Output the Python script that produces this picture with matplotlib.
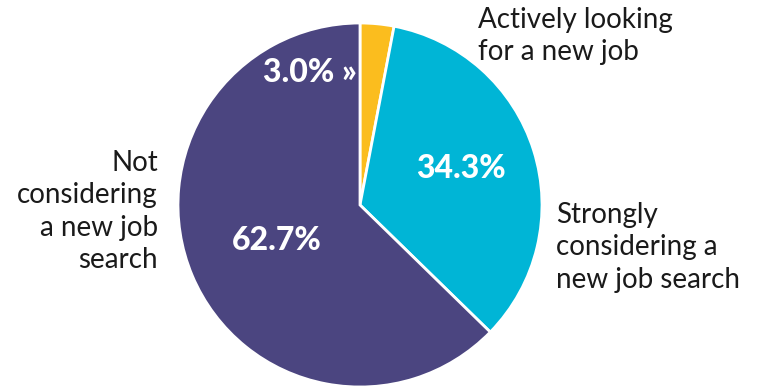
import matplotlib
matplotlib.use("Agg")
import matplotlib.pyplot as plt

plt.rcParams['font.family'] = ['Lato', 'DejaVu Sans']

categories = ['Actively looking\nfor a new job',
              'Strongly\nconsidering a\nnew job search',
              'Not\nconsidering\na new job\nsearch']
shares = [3.0, 34.3, 62.7]
value_labels = ['3.0% »', '34.3%', '62.7%']
colors = ['#fbbd1e', '#00b5d6', '#4b4580']

W, H = 757, 387
fig = plt.figure(figsize=(W / 100, H / 100), dpi=100)

# pie centre and radius in pixels
cx, cy, r = 360, 205, 182
ax = fig.add_axes([(cx - r) / W, (H - cy - r) / H, 2 * r / W, 2 * r / H])
ax.pie(shares, colors=colors, startangle=90, counterclock=False, radius=1,
       wedgeprops=dict(edgecolor='white', linewidth=2))
ax.set_xlim(-1, 1)
ax.set_ylim(-1, 1)
ax.set_aspect('auto')
ax.axis('off')


def px(x, y):
    return (x - cx) / r, (cy - y) / r


# value labels inside the wedges
ax.text(*px(357, 72), value_labels[0], color='white', fontsize=23,
        fontweight='black', ha='right', va='center')
ax.text(*px(461, 168), value_labels[1], color='white', fontsize=23,
        fontweight='black', ha='center', va='center')
ax.text(*px(277, 240), value_labels[2], color='white', fontsize=23,
        fontweight='black', ha='center', va='center')

# category labels outside
ax.text(*px(478, 7), categories[0], color='#1a1a1a', fontsize=20,
        ha='left', va='top', linespacing=1.3, clip_on=False)
ax.text(*px(556, 202), categories[1], color='#1a1a1a', fontsize=20,
        ha='left', va='top', linespacing=1.3, clip_on=False)
ax.text(*px(158, 150), categories[2], color='#1a1a1a', fontsize=20,
        ha='right', va='top', linespacing=1.3, clip_on=False)

fig.savefig('out.png', dpi=100)
